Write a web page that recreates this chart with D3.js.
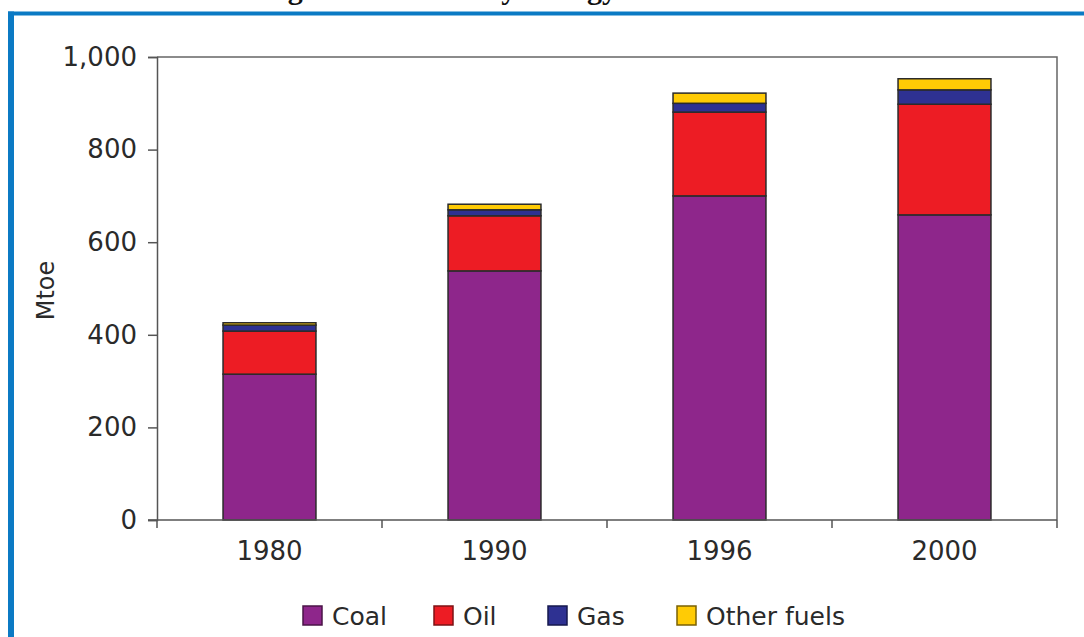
<!DOCTYPE html>
<html>
<head>
<meta charset="utf-8">
<script src="https://cdn.jsdelivr.net/npm/d3@7"></script>
<style>
  body { margin: 0; background: #fff; }
  svg { display: block; font-family: "DejaVu Sans", sans-serif; }
</style>
</head>
<body>
<div id="chart"></div>
<script>
const years = ["1980", "1990", "1996", "2000"];
const coal = [315, 538, 700, 659];
const oil = [93, 119, 181, 239];
const gas = [13, 13, 19, 31];
const other = [5, 12, 22, 24];
const fuels = ["Coal", "Oil", "Gas", "Other fuels"];
const yTicks = [0, 200, 400, 600, 800, 1000];

const colors = { "Coal": "#8e268b", "Oil": "#ed1c24", "Gas": "#2e3192", "Other fuels": "#ffcb05" };
const edges = { "Coal": "#4a1447", "Oil": "#7d1214", "Gas": "#16184e", "Other fuels": "#7a6105" };

const table = years.map((yr, i) => ({
  year: yr, "Coal": coal[i], "Oil": oil[i], "Gas": gas[i], "Other fuels": other[i]
}));

const W = 1084, H = 637;
const plot = { left: 157, right: 1057, top: 57, bottom: 520 };

const svg = d3.select("#chart").append("svg")
  .attr("width", W).attr("height", H);

svg.append("rect").attr("width", W).attr("height", H).attr("fill", "#fff");

// cut-off title above the frame
svg.append("text")
  .attr("x", 261).attr("y", -1)
  .attr("font-family", "Liberation Serif, serif")
  .attr("font-weight", "bold")
  .attr("font-size", 30)
  .attr("fill", "#111")
  .text("Figure 3.1: Primary Energy Demand");

// blue frame
svg.append("rect").attr("x", 8).attr("y", 11.5).attr("width", W - 8).attr("height", 4).attr("fill", "#0b7ac4");
svg.append("rect").attr("x", 8).attr("y", 11.5).attr("width", 6).attr("height", H - 11.5).attr("fill", "#0b7ac4");

const x = d3.scaleBand().domain(years)
  .range([plot.left, plot.right])
  .paddingInner(0.587).paddingOuter(0.2935);

const y = d3.scaleLinear().domain([0, 1000]).range([plot.bottom, plot.top]);

// plot frame (top / right)
svg.append("path")
  .attr("d", `M${plot.left},${plot.top}H${plot.right}V${plot.bottom}`)
  .attr("fill", "none").attr("stroke", "#666").attr("stroke-width", 1.5);

const stack = d3.stack().keys(fuels)(table);

svg.append("g").selectAll("g")
  .data(stack).join("g")
  .attr("fill", d => colors[d.key])
  .selectAll("rect")
  .data(d => d).join("rect")
  .attr("x", d => x(d.data.year))
  .attr("width", x.bandwidth())
  .attr("y", d => y(d[1]))
  .attr("height", d => y(d[0]) - y(d[1]))
  .attr("stroke", "#2b2b2b")
  .attr("stroke-width", 1.5);

// y axis
const yAxis = svg.append("g")
  .attr("transform", `translate(${plot.left},0)`)
  .call(d3.axisLeft(y).tickValues(yTicks).tickSize(9).tickPadding(11).tickFormat(d3.format(",")));
yAxis.select(".domain").attr("stroke", "#555").attr("stroke-width", 1.5);
yAxis.selectAll(".tick line").attr("stroke", "#555").attr("stroke-width", 1.5);
yAxis.selectAll(".tick text").attr("font-size", 26).attr("fill", "#2a2a2a")
  .attr("font-family", "DejaVu Sans, sans-serif");

// x axis: labels at band centres, ticks at band edges
const xAxis = svg.append("g")
  .attr("transform", `translate(0,${plot.bottom})`)
  .call(d3.axisBottom(x).tickSize(0).tickPadding(22));
xAxis.select(".domain").remove();
xAxis.selectAll(".tick text").attr("font-size", 26).attr("fill", "#2a2a2a")
  .attr("font-family", "DejaVu Sans, sans-serif");

const edgesX = d3.range(years.length + 1).map(i => plot.left + i * x.step());
svg.append("g").selectAll("line")
  .data(edgesX).join("line")
  .attr("x1", d => d).attr("x2", d => d)
  .attr("y1", plot.bottom).attr("y2", plot.bottom + 8)
  .attr("stroke", "#555").attr("stroke-width", 1.5);
svg.append("line")
  .attr("x1", plot.left - 9).attr("x2", plot.right)
  .attr("y1", plot.bottom).attr("y2", plot.bottom)
  .attr("stroke", "#555").attr("stroke-width", 1.5);

// y label
svg.append("text")
  .attr("transform", `translate(54,${(plot.top + plot.bottom) / 2 + 2}) rotate(-90)`)
  .attr("text-anchor", "middle")
  .attr("font-size", 24)
  .attr("fill", "#2a2a2a")
  .text("Mtoe");

// legend
const legendX = [303, 434, 548, 677];
const leg = svg.append("g").selectAll("g")
  .data(fuels).join("g")
  .attr("transform", (d, i) => `translate(${legendX[i]},606)`);
leg.append("rect")
  .attr("width", 19).attr("height", 19)
  .attr("fill", d => colors[d])
  .attr("stroke", d => edges[d]).attr("stroke-width", 1.5);
leg.append("text")
  .attr("x", 29).attr("y", 19)
  .attr("font-size", 25)
  .attr("fill", "#2a2a2a")
  .text(d => d);
</script>
</body>
</html>
